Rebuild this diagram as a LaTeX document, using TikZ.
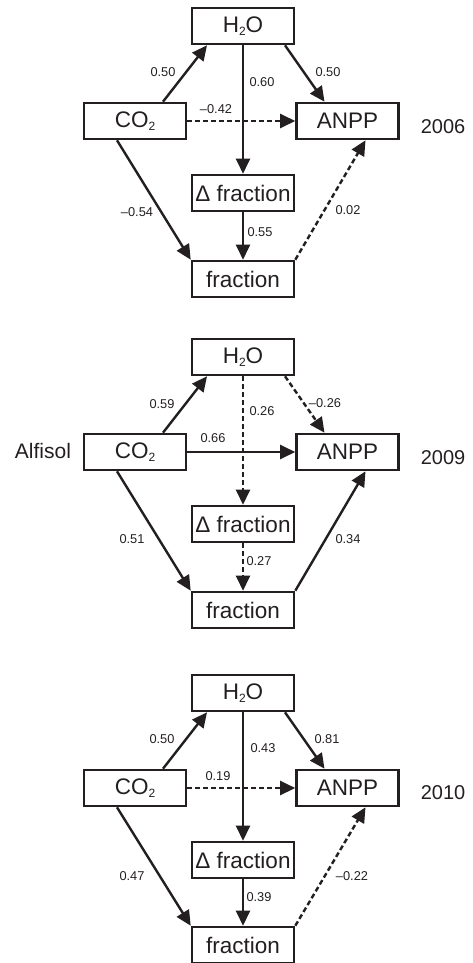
\documentclass[tikz,border=0pt]{standalone}
\usepackage{fontspec}
\setmainfont{Liberation Sans}
\usetikzlibrary{arrows.meta}
\definecolor{ink}{HTML}{231F20}
\newcommand\lowtwo{{\fontsize{12}{12}\selectfont\raisebox{-3.5pt}{2}}}
\tikzset{
  box/.style={draw=ink, line width=2.6pt, minimum width=102pt, minimum height=36pt, inner sep=0pt, font=\fontsize{22.5}{22.5}\selectfont, text=ink},
  arr/.style={draw=ink, line width=2.4pt, -{Triangle[length=15pt,width=14pt]}},
  dsh/.style={dash pattern=on 5pt off 3pt},
  lab/.style={font=\fontsize{12.8}{12.8}\selectfont, text=ink, inner sep=0pt},
  yr/.style={font=\fontsize{20}{20}\selectfont, text=ink, inner sep=0pt},
}
\begin{document}
\begin{tikzpicture}[x=1pt,y=-1pt]
\useasboundingbox (0,0) rectangle (472,963);
% ---------------- 2006 ----------------
\begin{scope}
\node[box] (h1) at (243,26) {H\lowtwo O};
\node[box] (c1) at (135,121) {CO\lowtwo};
\node[box] (a1) at (347.5,121) {ANPP};
\node[box] (d1) at (243,193) {Δ fraction};
\node[box] (f1) at (243,279) {fraction};
\draw[arr] ([xshift=28pt]c1.north) -- ([xshift=-36pt]h1.south);
\draw[arr] ([xshift=42pt]h1.south) -- ([xshift=-23pt]a1.north);
\draw[arr] (h1.south) -- (d1.north);
\draw[arr,dsh] (c1.east) -- (a1.west);
\draw[arr] ([xshift=-18pt]c1.south) -- (f1.north west);
\draw[arr] (d1.south) -- (f1.north);
\draw[arr,dsh] (f1.north east) -- ([xshift=18pt]a1.south);
\node[lab] (l1a) at (163,72) {0.50};
\node[lab] (l1b) at (262,82) {0.60};
\node[lab] (l1c) at (328,72) {0.50};
\node[lab] (l1d) at (216,109) {–0.42};
\node[lab] (l1e) at (137,212) {–0.54};
\node[lab] (l1f) at (260,232) {0.55};
\node[lab] (l1g) at (348,210) {0.02};
\node[yr] (y1) at (443,127) {2006};
\end{scope}
% ---------------- 2009 ----------------
\begin{scope}[shift={(0,331)}]
\node[box] (h2) at (243,26) {H\lowtwo O};
\node[box] (c2) at (135,121) {CO\lowtwo};
\node[box] (a2) at (347.5,121) {ANPP};
\node[box] (d2) at (243,193) {Δ fraction};
\node[box] (f2) at (243,279) {fraction};
\draw[arr] ([xshift=28pt]c2.north) -- ([xshift=-36pt]h2.south);
\draw[arr,dsh] ([xshift=42pt]h2.south) -- ([xshift=-23pt]a2.north);
\draw[arr,dsh] (h2.south) -- (d2.north);
\draw[arr] (c2.east) -- (a2.west);
\draw[arr] ([xshift=-18pt]c2.south) -- (f2.north west);
\draw[arr,dsh] (d2.south) -- (f2.north);
\draw[arr] (f2.north east) -- ([xshift=18pt]a2.south);
\node[lab] (l2a) at (162,73) {0.59};
\node[lab] (l2b) at (262,80) {0.26};
\node[lab] (l2c) at (325,72) {–0.26};
\node[lab] (l2d) at (213,107) {0.66};
\node[lab] (l2e) at (132,208) {0.51};
\node[lab] (l2f) at (259,230) {0.27};
\node[lab] (l2g) at (348,208) {0.34};
\node[yr] (y2) at (443,127) {2009};
\node[font=\fontsize{21}{21}\selectfont, text=ink, inner sep=0pt] (soil) at (43,120) {Alfisol};
\end{scope}
% ---------------- 2010 ----------------
\begin{scope}[shift={(0,667)}]
\node[box] (h3) at (243,26) {H\lowtwo O};
\node[box] (c3) at (135,121) {CO\lowtwo};
\node[box] (a3) at (347.5,121) {ANPP};
\node[box] (d3) at (243,193) {Δ fraction};
\node[box] (f3) at (243,278) {fraction};
\draw[arr] ([xshift=28pt]c3.north) -- ([xshift=-36pt]h3.south);
\draw[arr] ([xshift=42pt]h3.south) -- ([xshift=-23pt]a3.north);
\draw[arr] (h3.south) -- (d3.north);
\draw[arr,dsh] (c3.east) -- (a3.west);
\draw[arr] ([xshift=-18pt]c3.south) -- (f3.north west);
\draw[arr] (d3.south) -- (f3.north);
\draw[arr,dsh] (f3.north east) -- ([xshift=18pt]a3.south);
\node[lab] (l3a) at (162,72) {0.50};
\node[lab] (l3b) at (263,81) {0.43};
\node[lab] (l3c) at (327,72) {0.81};
\node[lab] (l3d) at (218,109) {0.19};
\node[lab] (l3e) at (132,209) {0.47};
\node[lab] (l3f) at (259,230) {0.39};
\node[lab] (l3g) at (352,209) {–0.22};
\node[yr] (y3) at (443,126) {2010};
\end{scope}
\end{tikzpicture}
\end{document}
